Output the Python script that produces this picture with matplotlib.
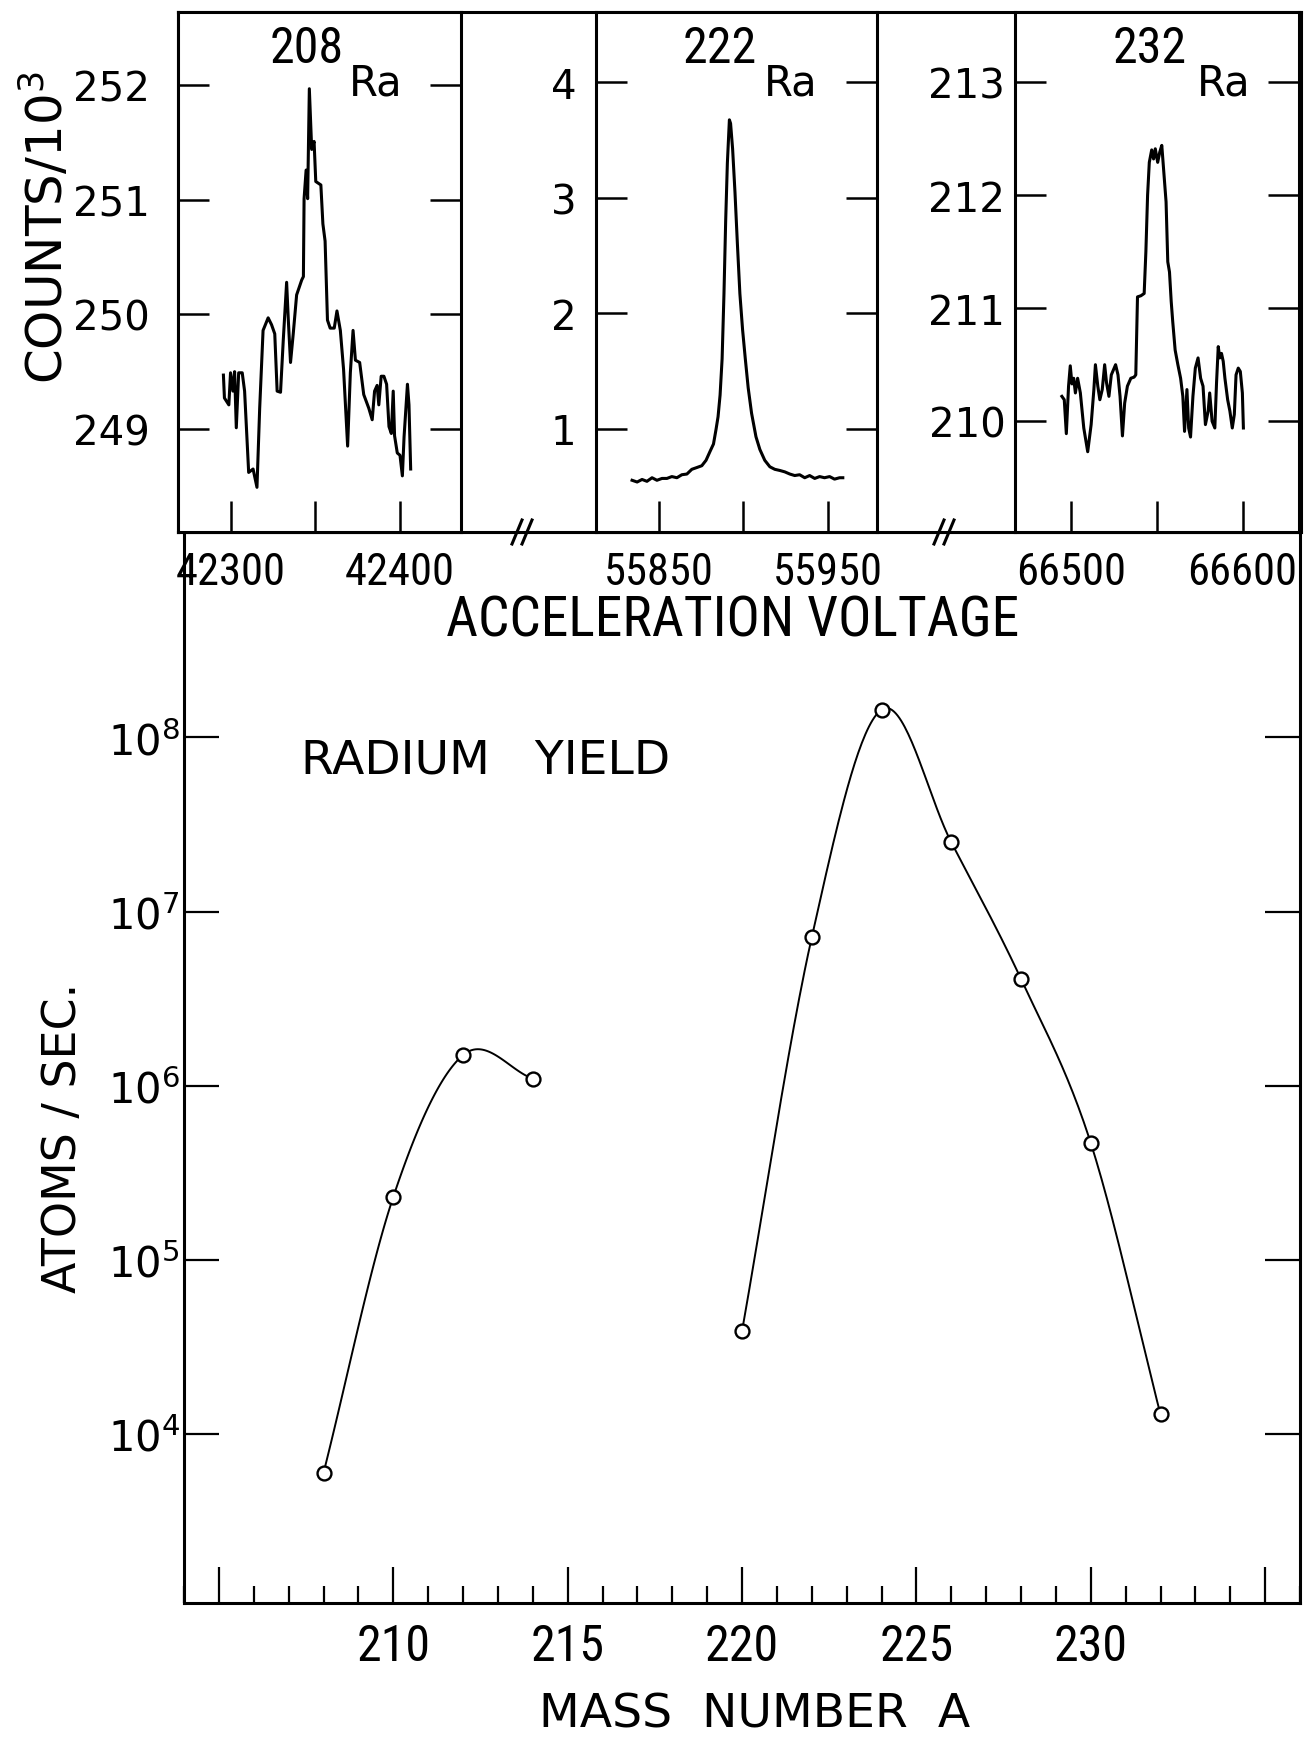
import matplotlib
matplotlib.use("Agg")
import matplotlib.pyplot as plt
import numpy as np
from matplotlib import font_manager
from matplotlib.lines import Line2D

# ---- top panels: scans over acceleration voltage (counts / 10^3) ----
v208 = [42295.8, 42296.4, 42299.0, 42300.0, 42301.4, 42302.4, 42303.4, 42304.8,
        42306.9, 42308.3, 42310.7, 42313.3, 42315.6, 42317.2, 42319.2, 42322.2,
        42324.2, 42326.1, 42327.5, 42329.5, 42331.1, 42333.1, 42334.1, 42335.4,
        42337.0, 42339.0, 42342.0, 42343.0, 42343.4, 42344.6, 42345.5, 42346.5,
        42347.9, 42349.3, 42350.3, 42353.3, 42354.5, 42355.8, 42357.2, 42358.8,
        42361.2, 42362.8, 42364.8, 42366.7, 42369.1, 42370.7, 42372.3, 42373.7,
        42376.2, 42378.6, 42381.6, 42383.6, 42385.0, 42386.5, 42387.5, 42388.9,
        42390.5, 42392.1, 42393.5, 42394.9, 42396.0, 42396.8, 42398.4, 42400.0,
        42401.4, 42402.4, 42404.4, 42405.3, 42406.3]
c208 = [249.47, 249.27, 249.21, 249.49, 249.33, 249.50, 249.01, 249.49,
        249.49, 249.33, 248.62, 248.65, 248.49, 249.18, 249.86, 249.97,
        249.91, 249.83, 249.33, 249.32, 249.77, 250.28, 249.95, 249.58,
        249.83, 250.17, 250.30, 250.33, 251.01, 251.26, 251.01, 251.97,
        251.44, 251.51, 251.16, 251.13, 250.79, 250.64, 249.95, 249.88,
        249.88, 250.03, 249.86, 249.52, 248.85, 249.49, 249.86, 249.60,
        249.58, 249.30, 249.18, 249.08, 249.33, 249.38, 249.21, 249.46,
        249.46, 249.39, 249.02, 248.96, 249.33, 248.94, 248.79, 248.77,
        248.59, 248.93, 249.39, 249.21, 248.65]

v222 = [55834.3, 55837.3, 55840.2, 55843.1, 55846.1, 55849.0, 55852.0, 55854.9,
        55857.8, 55860.8, 55863.7, 55866.7, 55869.6, 55872.5, 55875.5, 55878.0,
        55880.4, 55882.4, 55883.9, 55885.1, 55886.3, 55887.5, 55888.6, 55889.6,
        55890.6, 55891.8, 55892.5, 55893.7, 55895.1, 55896.5, 55898.0, 55899.6,
        55901.2, 55902.9, 55904.9, 55907.5, 55909.8, 55912.7, 55915.7, 55918.6,
        55921.6, 55924.5, 55927.5, 55930.4, 55933.3, 55936.3, 55939.2, 55942.2,
        55945.1, 55948.0, 55951.0, 55953.9, 55956.9, 55958.8]
c222 = [0.554, 0.539, 0.561, 0.545, 0.576, 0.554, 0.570, 0.570,
        0.586, 0.576, 0.602, 0.608, 0.649, 0.664, 0.680, 0.727,
        0.805, 0.868, 0.994, 1.104, 1.292, 1.606, 2.170, 2.798,
        3.300, 3.676, 3.645, 3.425, 3.049, 2.610, 2.170, 1.857,
        1.606, 1.355, 1.135, 0.931, 0.821, 0.727, 0.671, 0.649,
        0.639, 0.627, 0.608, 0.595, 0.602, 0.576, 0.595, 0.570,
        0.586, 0.576, 0.586, 0.564, 0.576, 0.576]

v232 = [66494.4, 66495.8, 66497.0, 66498.3, 66499.3, 66500.3, 66501.3, 66502.3,
        66503.6, 66505.2, 66507.2, 66509.5, 66511.5, 66513.1, 66514.0, 66515.4,
        66516.6, 66518.0, 66519.4, 66520.5, 66521.9, 66523.3, 66525.8, 66527.2,
        66528.4, 66529.8, 66531.1, 66532.7, 66534.7, 66536.6, 66537.6, 66538.6,
        66540.6, 66542.5, 66543.5, 66544.5, 66545.5, 66546.9, 66548.0, 66549.0,
        66550.4, 66551.6, 66552.8, 66553.9, 66555.3, 66556.3, 66557.3, 66558.3,
        66559.2, 66560.6, 66562.2, 66563.8, 66565.1, 66566.1, 66567.5, 66568.5,
        66569.6, 66571.0, 66572.4, 66574.0, 66575.5, 66576.9, 66578.3, 66579.9,
        66580.8, 66582.2, 66583.8, 66584.8, 66585.8, 66586.7, 66587.7, 66588.7,
        66589.7, 66591.3, 66592.6, 66594.0, 66595.2, 66596.2, 66597.5, 66598.7,
        66599.9, 66600.5]
c232 = [210.22, 210.19, 209.89, 210.31, 210.49, 210.33, 210.38, 210.25,
        210.38, 210.25, 209.94, 209.73, 209.97, 210.28, 210.50, 210.31,
        210.19, 210.28, 210.50, 210.34, 210.22, 210.41, 210.50, 210.41,
        210.22, 209.87, 210.16, 210.31, 210.38, 210.39, 210.41, 211.10,
        211.11, 211.13, 211.50, 212.00, 212.29, 212.40, 212.32, 212.41,
        212.29, 212.38, 212.44, 212.22, 211.94, 211.41, 211.32, 211.06,
        210.88, 210.63, 210.50, 210.38, 210.22, 209.91, 210.28, 209.94,
        209.86, 210.22, 210.47, 210.56, 210.38, 210.31, 209.97, 210.09,
        210.25, 210.00, 209.94, 210.34, 210.66, 210.56, 210.60, 210.53,
        210.38, 210.19, 210.09, 209.94, 210.06, 210.41, 210.47, 210.44,
        210.25, 209.94]

# ---- bottom panel: radium yield ----
mass = [208, 210, 212, 214, 220, 222, 224, 226, 228, 230, 232]
atoms = [6.0e3, 2.3e5, 1.5e6, 1.1e6, 3.9e4, 7.1e6, 1.44e8, 2.5e7, 4.1e6, 4.7e5, 1.3e4]
branches = [(208, 214), (220, 232)]

W, H = 1311, 1740
plt.rcParams['font.family'] = 'DejaVu Sans'
plt.rcParams['axes.linewidth'] = 2.2

# pick a narrow face for the condensed lettering if one is installed
narrow = None
for f in font_manager.fontManager.ttflist:
    if f.name in ('Liberation Sans Narrow', 'Roboto Condensed'):
        narrow = dict(family=f.name)
        break
    if f.name == 'DejaVu Sans' and str(f.stretch) in ('condensed', 'semi-condensed'):
        narrow = dict(family='DejaVu Sans', stretch='condensed')
if narrow is None:
    narrow = dict(family='DejaVu Sans')
    nscale = 0.85
else:
    nscale = 1.0


def nfont(size):
    d = dict(narrow)
    d['size'] = size * nscale
    return font_manager.FontProperties(**d)


def box(x0, y0, x1, y1):
    # pixel box (top-left origin) -> figure fraction rect
    return [x0 / W, 1 - y1 / H, (x1 - x0) / W, (y1 - y0) / H]


def fx(x):
    return x / W


def fy(y):
    return 1 - y / H


def smooth(xs, ys, n=40):
    xs = np.asarray(xs, float)
    ly = np.log10(ys)
    m = np.gradient(ly, xs)
    px, py = [], []
    t = np.linspace(0, 1, n)
    h00 = 2 * t**3 - 3 * t**2 + 1
    h10 = t**3 - 2 * t**2 + t
    h01 = -2 * t**3 + 3 * t**2
    h11 = t**3 - t**2
    for i in range(len(xs) - 1):
        h = xs[i + 1] - xs[i]
        px.append(xs[i] + t * h)
        py.append(h00 * ly[i] + h10 * h * m[i] + h01 * ly[i + 1] + h11 * h * m[i + 1])
    return np.concatenate(px), 10 ** np.concatenate(py)


fig = plt.figure(figsize=(W / 100, H / 100), dpi=100)

# frame around top row
bg = fig.add_axes(box(178, 13, 1301, 533))
bg.set_xticks([])
bg.set_yticks([])

panels = [
    (v208, c208, (42269, 42436), (248.10, 252.64), [42300, 42350, 42400],
     ['42300', '', '42400'], [249, 250, 251, 252], (178, 461), 20, '208', (0.455, 0.698)),
    (v222, c222, (55813, 55979), (0.106, 4.61), [55850, 55900, 55950],
     ['55850', '', '55950'], [1, 2, 3, 4], (596, 877), 14, '222', (0.439, 0.692)),
    (v232, c232, (66467, 66633), (209.02, 213.62), [66500, 66550, 66600],
     ['66500', '', '66600'], [210, 211, 212, 213], (1015, 1299), 7, '232', (0.473, 0.734)),
]

for v, c, xl, yl, xt, xtl, yt, (x0, x1), ypad, iso, (ix, rx) in panels:
    ax = fig.add_axes(box(x0, 13, x1, 533))
    ax.plot(v, c, color='black', lw=2.2)
    ax.set_xlim(*xl)
    ax.set_ylim(*yl)
    ax.set_xticks(xt)
    ax.set_xticklabels(xtl, fontproperties=nfont(32))
    ax.set_yticks(yt)
    ax.set_yticklabels([str(t) for t in yt], fontsize=29)
    ax.tick_params(axis='x', direction='in', length=22, width=1.8, pad=14)
    ax.tick_params(axis='y', direction='in', length=22, width=1.8, pad=ypad,
                   left=True, right=True)
    ax.text(ix, 0.93, iso, transform=ax.transAxes, fontproperties=nfont(36),
            ha='center', va='center')
    ax.text(rx, 0.865, 'Ra', transform=ax.transAxes, fontsize=30,
            ha='center', va='center')

# axis break marks on the common voltage axis
for xc in (522, 944):
    for dx in (-5, 5):
        fig.add_artist(Line2D([fx(xc + dx - 5), fx(xc + dx + 5)], [fy(545), fy(521)],
                              transform=fig.transFigure, color='black', lw=2.2))

fig.text(fx(733), fy(621), 'ACCELERATION VOLTAGE', fontproperties=nfont(40),
         ha='center', va='center')
fig.text(fx(46), fy(228), 'COUNTS/10$^3$', fontsize=36, rotation=90,
         ha='center', va='center')

# radium yield
ax2 = fig.add_axes(box(184, 533, 1300, 1604))
ax2.set_zorder(-1)
ax2.set_yscale('log')
for lo, hi in branches:
    sel = [(m, a) for m, a in zip(mass, atoms) if lo <= m <= hi]
    cx, cy = smooth([s[0] for s in sel], [s[1] for s in sel])
    ax2.plot(cx, cy, color='black', lw=1.4)
ax2.plot(mass, atoms, 'o', ms=10, mfc='white', mec='black', mew=1.7)
ax2.set_xlim(204, 236)
ax2.set_ylim(10 ** 3.032, 10 ** 9.178)
ax2.set_xticks([205, 210, 215, 220, 225, 230, 235])
ax2.set_xticklabels(['', '210', '215', '220', '225', '230', ''], fontproperties=nfont(36))
ax2.set_xticks(range(204, 237), minor=True)
ax2.set_yticks([1e4, 1e5, 1e6, 1e7, 1e8])
ax2.set_yticklabels(['$10^{4}$', '$10^{5}$', '$10^{6}$', '$10^{7}$', '$10^{8}$'], fontsize=30)
ax2.yaxis.set_minor_locator(matplotlib.ticker.NullLocator())
ax2.tick_params(axis='x', which='major', direction='in', length=26, width=1.6, pad=14)
ax2.tick_params(axis='x', which='minor', direction='in', length=12, width=1.6)
ax2.tick_params(axis='y', direction='in', length=25, width=1.6, pad=3,
                left=True, right=True)
ax2.text(0.27, 0.787, 'RADIUM   YIELD', transform=ax2.transAxes, fontsize=34,
         ha='center', va='center')
fig.text(fx(755), fy(1715), 'MASS  NUMBER  A', fontsize=34, ha='center', va='center')
fig.text(fx(64), fy(1138), 'ATOMS / SEC.', fontsize=33, rotation=90,
         ha='center', va='center')

fig.savefig('out.png', dpi=100)
